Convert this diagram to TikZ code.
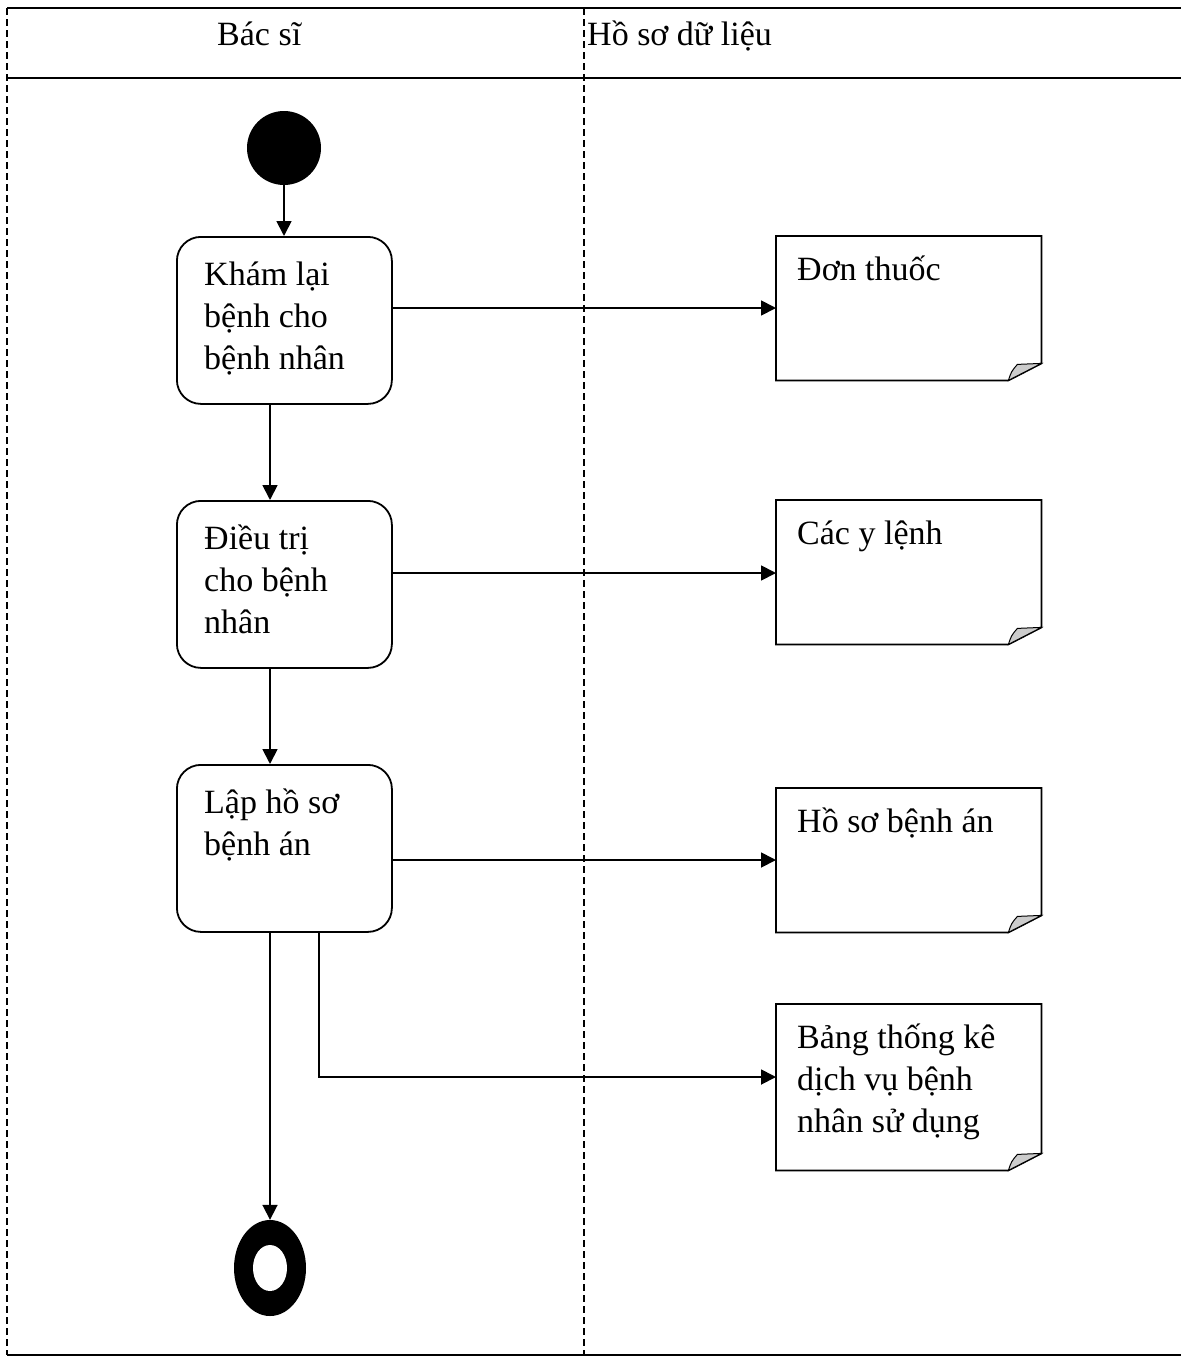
\documentclass[tikz,border=0pt]{standalone}
\usepackage{fontspec}
\setmainfont{Liberation Serif}
\usetikzlibrary{arrows.meta,shapes.geometric}
\begin{document}
\begin{tikzpicture}[x=1pt,y=-1pt,
 lane/.style={line width=1.8pt},
 lanedash/.style={line width=1.6pt, dash pattern=on 7pt off 4pt},
 act/.style={draw, line width=1.8pt, rounded corners=24pt, minimum width=215pt, minimum height=167pt, inner sep=0, anchor=north west},
 notebox/.style={minimum width=265pt, minimum height=144pt, inner sep=0, anchor=north west},
 notedraw/.style={line width=1.8pt},
 fold/.style={line width=1pt, fill=gray!40},
 txt/.style={anchor=base west, inner sep=0, font=\fontsize{34}{42}\selectfont},
 flow/.style={line width=1.8pt, -{Triangle[length=15pt,width=15pt]}}
]
\useasboundingbox (0,0) rectangle (1181,1365);
% swimlane frame
\coordinate (tl) at (7,8);
\coordinate (tr) at (1181,8);
\coordinate (hl) at (7,78);
\coordinate (hr) at (1181,78);
\coordinate (bl) at (7,1355);
\coordinate (br) at (1181,1355);
\coordinate (mt) at (584,8);
\coordinate (mb) at (584,1355);
\draw[lane] (tl) -- (tr);
\draw[lane] (hl) -- (hr);
\draw[lane] (bl) -- (br);
\draw[lanedash] (tl) -- (bl);
\draw[lanedash] (mt) -- (mb);
\node[txt] (h1) at (217,45) {Bác sĩ};
\node[txt] (h2) at (587,45) {Hồ sơ dữ liệu};
% start
\node[circle, fill=black, minimum size=74pt, inner sep=0] (start) at (284,148) {};
% activities
\node[act] (a1) at (176,236) {};
\node[act] (a2) at (176,500) {};
\node[act] (a3) at (176,764) {};
\node[txt] (t1) at (204,285) {\parbox[t]{200pt}{\raggedright Khám lại\\bệnh cho\\bệnh nhân}};
\node[txt] (t2) at (204,549) {\parbox[t]{200pt}{\raggedright Điều trị\\cho bệnh\\nhân}};
\node[txt] (t3) at (204,813) {\parbox[t]{200pt}{\raggedright Lập hồ sơ\\bệnh án}};
% end
\node[ellipse, fill=black, minimum width=72pt, minimum height=96pt, inner sep=0] (end) at (270,1268) {};
\node[ellipse, fill=white, minimum width=34pt, minimum height=46pt, inner sep=0] (endin) at (270,1268) {};
% notes
\node[notebox] (n1) at (776,236) {};
\node[notebox] (n2) at (776,500) {};
\node[notebox] (n3) at (776,788) {};
\node[notebox, minimum height=166pt] (n4) at (776,1004) {};
\foreach \n in {n1,n2,n3,n4}{
  \draw[notedraw] (\n.north west) -- (\n.north east) -- ([yshift=17pt]\n.south east) -- ([xshift=-33pt]\n.south east) -- (\n.south west) -- cycle;
  \draw[fold] ([xshift=-33pt]\n.south east) .. controls ([xshift=-30pt,yshift=9pt]\n.south east) .. ([xshift=-24pt,yshift=16pt]\n.south east) -- ([yshift=17pt]\n.south east) -- cycle;
}
\node[txt] (nt1) at (797,280) {Đơn thuốc};
\node[txt] (nt2) at (797,544) {Các y lệnh};
\node[txt] (nt3) at (797,832) {Hồ sơ bệnh án};
\node[txt] (nt4) at (797,1048) {\parbox[t]{240pt}{\raggedright Bảng thống kê\\dịch vụ bệnh\\nhân sử dụng}};
% flows
\draw[flow] (start.south) -- (start.south |- a1.north);
\draw[flow] (a1.south -| 270,0) -- (a2.north -| 270,0);
\draw[flow] (a2.south -| 270,0) -- (a3.north -| 270,0);
\draw[flow] (a3.south -| end.north) -- (end.north);
\draw[flow] (a1.east |- 0,308) -- (n1.west |- 0,308);
\draw[flow] (a2.east |- 0,573) -- (n2.west |- 0,573);
\draw[flow] (a3.east |- 0,860) -- (n3.west |- 0,860);
\draw[flow] (a3.south -| 319,0) -- (319,1077) -- (n4.west |- 0,1077);
\end{tikzpicture}
\end{document}
